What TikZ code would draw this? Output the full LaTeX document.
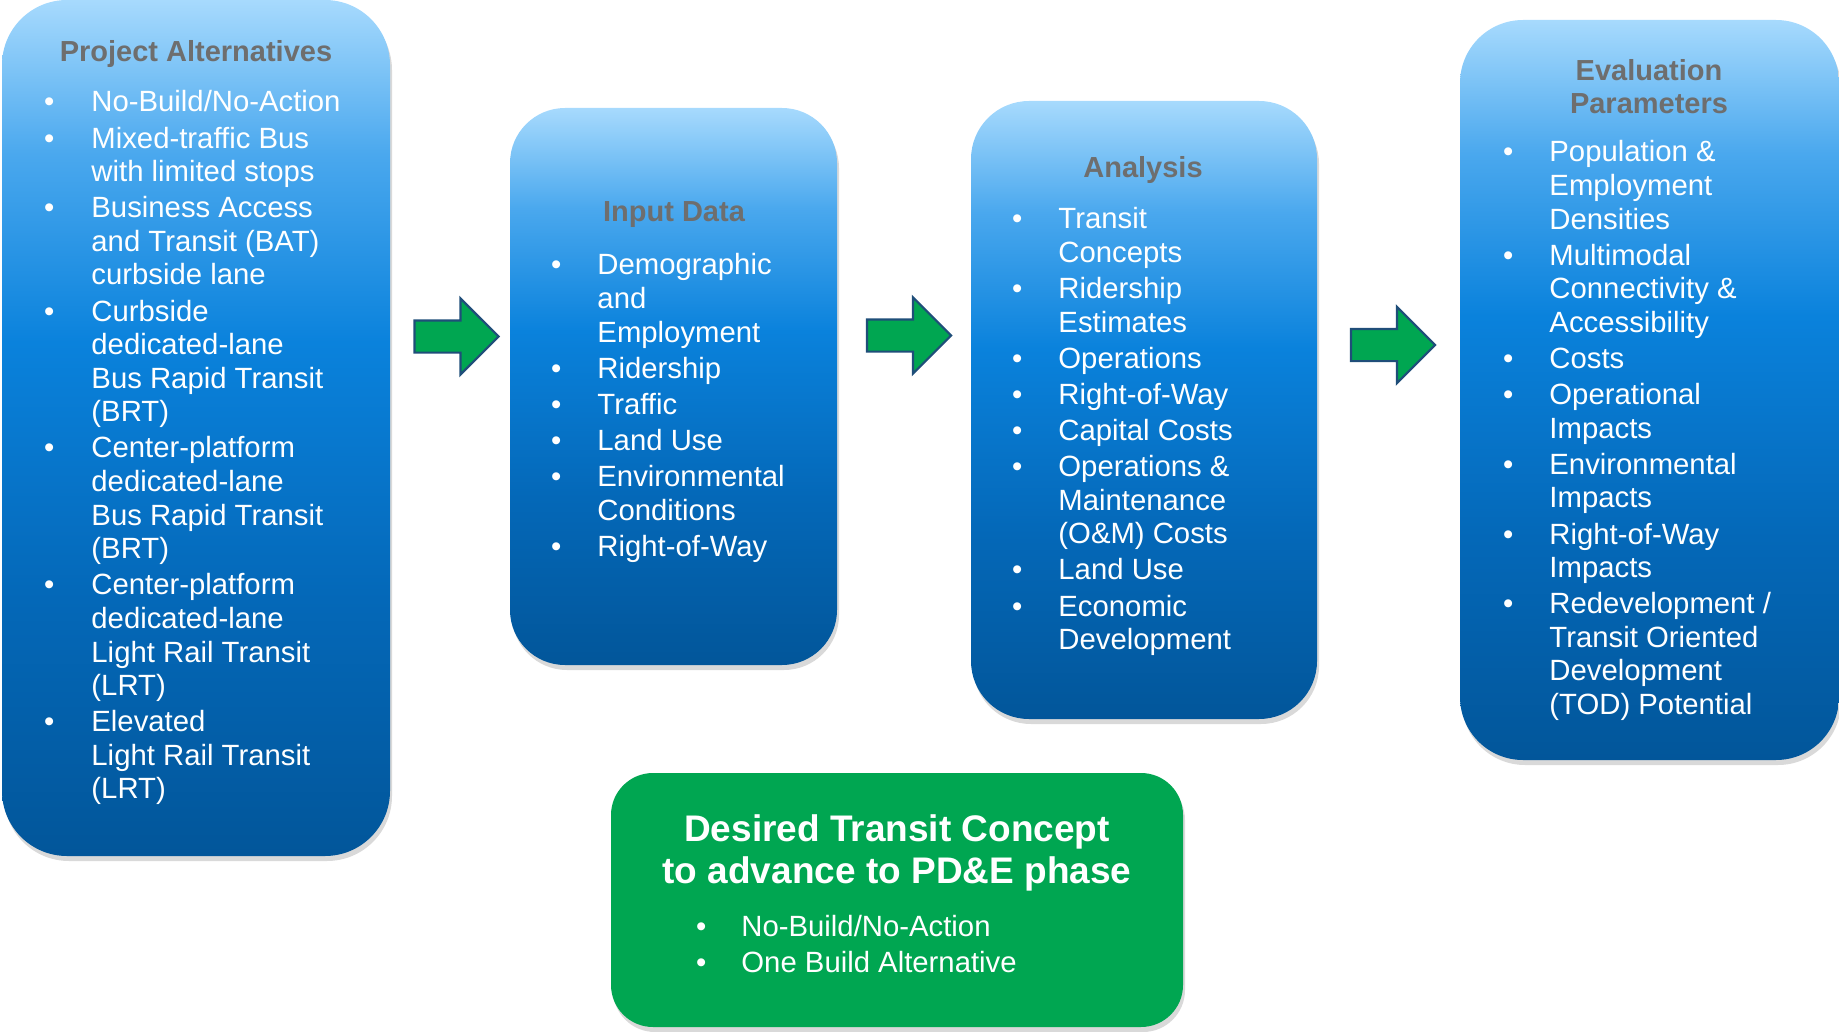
\documentclass[tikz,border=0pt]{standalone}
\usepackage{fontspec}
\setmainfont{Liberation Sans}
\usetikzlibrary{shapes.arrows,shadows}
\definecolor{skytop}{HTML}{A7DAFD}
\definecolor{skymid}{HTML}{4AA8EE}
\definecolor{bluemid}{HTML}{0A82DC}
\definecolor{bluelow}{HTML}{0468B8}
\definecolor{bluedeep}{HTML}{02569A}
\definecolor{headgrey}{HTML}{6E6E6E}
\definecolor{stepgreen}{HTML}{00A651}
\definecolor{arrowedge}{HTML}{1F4E79}
\pgfdeclareverticalshading{panelshade}{100bp}{color(0bp)=(bluedeep); color(25bp)=(bluedeep); color(40bp)=(bluelow); color(55bp)=(bluemid); color(66bp)=(skymid); color(75bp)=(skytop); color(100bp)=(skytop)}

\begin{document}
\begin{tikzpicture}[x=1pt,y=-1pt,panel/.style={shade,shading=panelshade,rounded corners=#1,inner sep=0pt,drop shadow={shadow xshift=2pt,shadow yshift=-5pt,opacity=.3}},goal/.style={fill=stepgreen,rounded corners=42pt,inner sep=0pt,minimum width=572,minimum height=254,drop shadow={shadow xshift=2pt,shadow yshift=-5pt,opacity=.3}},head/.style={text=headgrey,font=\bfseries\fontsize{29}{33}\selectfont,inner sep=0pt,align=center},items/.style={text=white,font=\fontsize{29.3}{33.6}\selectfont,inner sep=0pt,anchor=base west},flow/.style={single arrow,draw=arrowedge,fill=stepgreen,line width=2.2pt,minimum height=84,inner xsep=0pt,inner ysep=15pt,single arrow head extend=22pt}]
\useasboundingbox (0,0) rectangle (1839,1032);
\node[panel=65pt,minimum width=388,minimum height=856] (altsbox) at (196,428){};
\node[panel=55pt,minimum width=327,minimum height=557] (inputbox) at (673.5,386.5){};
\node[panel=58pt,minimum width=346,minimum height=618] (analysisbox) at (1144,410){};
\node[panel=63pt,minimum width=379,minimum height=740] (evalbox) at (1649.5,390){};
\node[goal] (conceptbox) at (897,900){};
\node[flow] (flowone) at (448.5,336.5){};
\node[flow] (flowtwo) at (901,335.5){};
\node[flow] (flowthree) at (1385,345){};
\node[head,anchor=base] (altshead) at (196,62){Project Alternatives};
\node[items] (altslist) at (44,112){\begin{tabular}[t]{@{}l@{\hspace{37pt}}l@{}}\textbullet & No-Build/No-Action\\[2.5pt]\textbullet & Mixed-traffic Bus\\ & with limited stops\\[2.5pt]\textbullet & Business Access\\ & and Transit (BAT)\\ & curbside lane\\[2.5pt]\textbullet & Curbside\\ & dedicated-lane\\ & Bus Rapid Transit\\ & (BRT)\\[2.5pt]\textbullet & Center-platform\\ & dedicated-lane\\ & Bus Rapid Transit\\ & (BRT)\\[2.5pt]\textbullet & Center-platform\\ & dedicated-lane\\ & Light Rail Transit\\ & (LRT)\\[2.5pt]\textbullet & Elevated\\ & Light Rail Transit\\ & (LRT)\end{tabular}};
\node[head,anchor=base] (inputhead) at (674,222){Input Data};
\node[items] (inputlist) at (551,275){\begin{tabular}[t]{@{}l@{\hspace{36pt}}l@{}}\textbullet & Demographic\\ & and\\ & Employment\\[2.5pt]\textbullet & Ridership\\[2.5pt]\textbullet & Traffic\\[2.5pt]\textbullet & Land Use\\[2.5pt]\textbullet & Environmental\\ & Conditions\\[2.5pt]\textbullet & Right-of-Way\end{tabular}};
\node[head,anchor=base] (analysishead) at (1143,178){Analysis};
\node[items] (analysislist) at (1012,229){\begin{tabular}[t]{@{}l@{\hspace{36pt}}l@{}}\textbullet & Transit\\ & Concepts\\[2.5pt]\textbullet & Ridership\\ & Estimates\\[2.5pt]\textbullet & Operations\\[2.5pt]\textbullet & Right-of-Way\\[2.5pt]\textbullet & Capital Costs\\[2.5pt]\textbullet & Operations \&\\ & Maintenance\\ & (O\&M) Costs\\[2.5pt]\textbullet & Land Use\\[2.5pt]\textbullet & Economic\\ & Development\end{tabular}};
\node[head] (evalhead) at (1649,87){Evaluation\\Parameters};
\node[items] (evallist) at (1503,162){\begin{tabular}[t]{@{}l@{\hspace{36pt}}l@{}}\textbullet & Population \&\\ & Employment\\ & Densities\\[2.5pt]\textbullet & Multimodal\\ & Connectivity \&\\ & Accessibility\\[2.5pt]\textbullet & Costs\\[2.5pt]\textbullet & Operational\\ & Impacts\\[2.5pt]\textbullet & Environmental\\ & Impacts\\[2.5pt]\textbullet & Right-of-Way\\ & Impacts\\[2.5pt]\textbullet & Redevelopment /\\ & Transit Oriented\\ & Development\\ & (TOD) Potential\end{tabular}};
\node[head,text=white,font=\bfseries\fontsize{37}{42}\selectfont] (concepthead) at (897,852.5){Desired Transit Concept\\to advance to PD\&E phase};
\node[items] (conceptlist) at (696,936){\begin{tabular}[t]{@{}l@{\hspace{35pt}}l@{}}\textbullet & No-Build/No-Action\\[2.5pt]\textbullet & One Build Alternative\end{tabular}};
\end{tikzpicture}
\end{document}
